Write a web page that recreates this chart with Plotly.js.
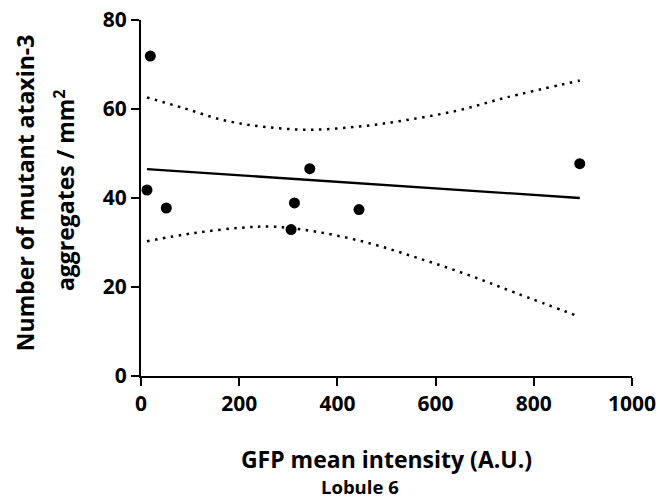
<!DOCTYPE html>
<html>
<head>
<meta charset="utf-8">
<script src="https://cdn.plot.ly/plotly-3.0.1.min.js"></script>
<style>html,body{margin:0;padding:0;background:#fff;}#chart{width:660px;height:500px;}</style>
</head>
<body>
<div id="chart"></div>
<script>
// Data points
const gfpIntensity = [19, 12.2, 51.5, 305.7, 312.5, 343.7, 444, 893.6];
const aggregates   = [71.9, 41.8, 37.75, 32.9, 38.9, 46.6, 37.4, 47.7];

// Regression line (endpoints)
const fitX = [12.2, 893.6];
const fitY = [46.5, 40.0];

// 95% confidence band
const upperX = [12.2, 86.7, 168, 249.4, 341, 439.4, 534, 642.8, 744.5, 893.6];
const upperY = [62.6, 60.2, 57.5, 56.0, 55.35, 56.0, 57.4, 59.6, 62.6, 66.4];
const lowerX = [12.2, 107, 202, 269.7, 358, 459.7, 561.4, 663, 764.8, 893.6];
const lowerY = [30.3, 32.1, 33.3, 33.55, 32.4, 30.0, 26.6, 22.85, 18.6, 13.3];

const xTicks = [0, 200, 400, 600, 800, 1000];
const yTicks = [0, 20, 40, 60, 80];

const yTitleLines = ['Number of mutant ataxin-3', 'aggregates / mm<sup>2</sup>'];
const xTitle = 'GFP mean intensity (A.U.)';
const subTitle = 'Lobule 6';

const FONT = '"Open Sans", Lato, sans-serif';

const traces = [
  {x: upperX, y: upperY, mode: 'lines', line: {color: '#000', width: 2.5, dash: '2.5px,5.5px', shape: 'spline'}, hoverinfo: 'skip', cliponaxis: false},
  {x: lowerX, y: lowerY, mode: 'lines', line: {color: '#000', width: 2.5, dash: '2.5px,5.5px', shape: 'spline'}, hoverinfo: 'skip', cliponaxis: false},
  {x: fitX, y: fitY, mode: 'lines', line: {color: '#000', width: 2.3}, cliponaxis: false},
  {x: gfpIntensity, y: aggregates, mode: 'markers', marker: {color: '#000', size: 11}, cliponaxis: false}
];

const boldFont = (size) => ({family: FONT, size: size, weight: 'bold', color: '#000'});

const layout = {
  width: 660, height: 500,
  margin: {l: 141, r: 28, t: 20, b: 124},
  paper_bgcolor: '#fff', plot_bgcolor: '#fff',
  showlegend: false,
  font: {family: FONT, color: '#000'},
  xaxis: {
    range: [0, 1000], tickvals: xTicks, ticktext: xTicks.map(String),
    showgrid: false, zeroline: false, showline: true, linecolor: '#000', linewidth: 2,
    ticks: 'outside', ticklen: 8, tickwidth: 2, tickcolor: '#000',
    tickfont: boldFont(21),
    title: {text: xTitle, font: boldFont(23), standoff: 36}
  },
  yaxis: {
    range: [0, 80], tickvals: yTicks, ticktext: yTicks.map(String),
    showgrid: false, zeroline: false, showline: true, linecolor: '#000', linewidth: 2,
    ticks: 'outside', ticklen: 8, tickwidth: 2, tickcolor: '#000',
    tickfont: boldFont(21)
  },
  annotations: [
    {text: yTitleLines[0], xref: 'paper', yref: 'paper', x: -0.236, y: 0.514, xanchor: 'center', yanchor: 'middle',
     textangle: -90, showarrow: false, font: boldFont(23)},
    {text: yTitleLines[1], xref: 'paper', yref: 'paper', x: -0.155, y: 0.522, xanchor: 'center', yanchor: 'middle',
     textangle: -90, showarrow: false, font: boldFont(23)},
    {text: subTitle, xref: 'paper', yref: 'paper', x: 0.446, y: 0, yshift: -110, xanchor: 'center', yanchor: 'middle', showarrow: false,
     font: boldFont(18.5)}
  ]
};

Plotly.newPlot('chart', traces, layout, {displayModeBar: false, staticPlot: true});
</script>
</body>
</html>
